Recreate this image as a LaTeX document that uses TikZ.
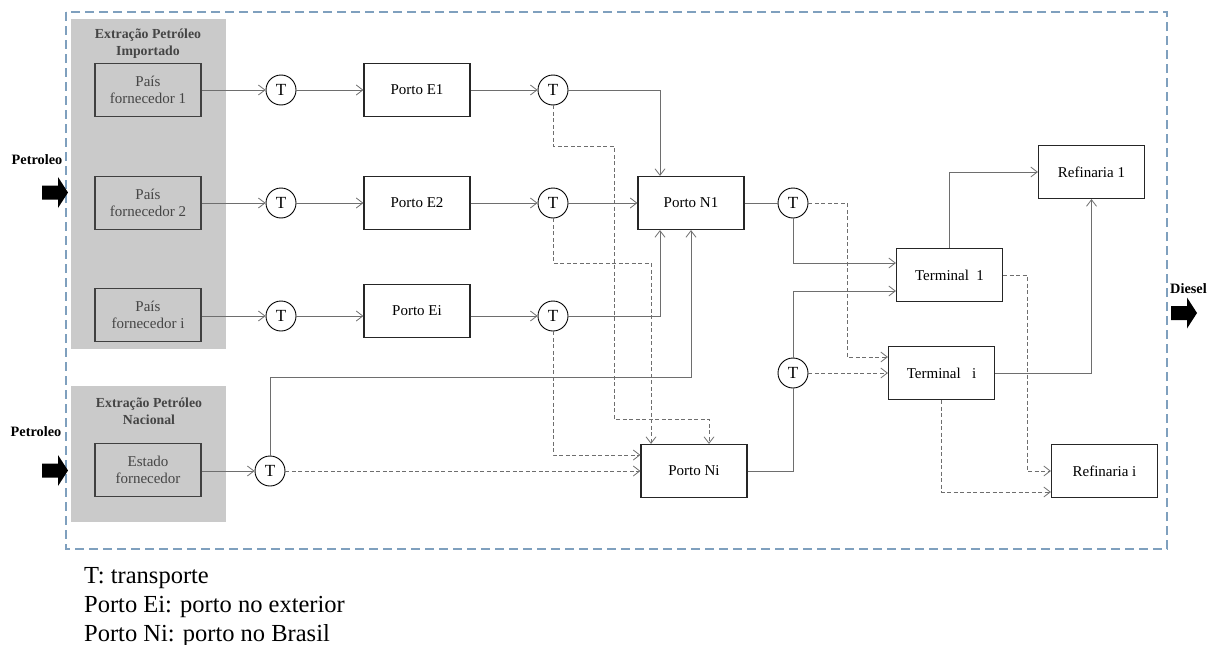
\documentclass[tikz,border=0pt]{standalone}
\usepackage{fontspec}
\setmainfont{Liberation Serif}
\usepackage{tikz}
\usetikzlibrary{arrows.meta}
\definecolor{cinzapainel}{HTML}{CACACA}
\definecolor{cinzalinha}{HTML}{6E6E6E}
\definecolor{azulmoldura}{HTML}{7FA0BE}
\definecolor{cinzatexto}{HTML}{454545}
\tikzset{
  caixa/.style = {rectangle, draw=black!85, line width=1.2pt, fill=white,
    minimum width=106pt, minimum height=53pt, inner sep=0pt, align=center,
    font=\fontsize{15}{17}\selectfont},
  caixa_p/.style = {caixa, fill=cinzapainel, draw=black!75, text=cinzatexto},% caixa no painel cinza
  transp/.style = {circle, draw=black, line width=0.9pt, fill=white,
    minimum size=30pt, inner sep=0pt, font=\fontsize{17}{17}\selectfont},
  titulo/.style = {align=center, text=cinzatexto,
    font=\fontsize{13.8}{17}\selectfont\bfseries},
  rotulo/.style = {font=\fontsize{14.3}{16}\selectfont\bfseries},
  legenda/.style = {anchor=base west, inner sep=0pt, font=\fontsize{24.5}{29}\selectfont},
  lig/.style = {draw=cinzalinha, line width=0.8pt},
  lig_t/.style = {lig, dash pattern=on 4pt off 2.5pt},% ligacao tracejada
  setagrossa/.pic = {\fill (-13,-7) -- (3,-7) -- (3,-15.5) -- (13,0) -- (3,15.5) -- (3,7) -- (-13,7) -- cycle;}
}
\begin{document}
\begin{tikzpicture}[x=1pt, y=-1pt, >={Straight Barb[length=6.5pt,width=10pt]}]
  \useasboundingbox (0,0) rectangle (1208,645);
  % moldura e paineis
  \draw[azulmoldura, line width=1.2pt, dash pattern=on 9pt off 5pt] (66,12) rectangle (1167,549);
  \fill[cinzapainel] (71,19) rectangle (226,349);
  \fill[cinzapainel] (71,386) rectangle (226,522);
  \node[titulo] (tit_imp) at (148,43.5) {Extração Petróleo\\Importado};
  \node[titulo] (tit_nac) at (149,411) {Extração Petróleo\\Nacional};

  % entradas e saida
  \node[rotulo] (petr1) at (37,160) {Petroleo};
  \pic at (55,192.5) {setagrossa};
  \node[rotulo] (petr2) at (36,432) {Petroleo};
  \pic at (55,470.5) {setagrossa};
  \node[rotulo, anchor=west, inner sep=0pt] (diesel) at (1170,289) {Diesel};
  \pic at (1184,313) {setagrossa};

  % fornecedores
  \node[caixa_p] (pais1) at (148,90) {País\\fornecedor 1};
  \node[caixa_p] (pais2) at (148,203) {País\\fornecedor 2};
  \node[caixa_p] (paisi) at (148,315) {País\\fornecedor i};
  \node[caixa_p] (estado) at (148,470) {Estado\\fornecedor};

  \node[transp] (t1) at (281,90) {T};
  \node[transp] (t2) at (281,203) {T};
  \node[transp] (ti) at (281,316) {T};
  \node[transp] (tn) at (270,471) {T};

  % portos
  \node[caixa] (e1) at (417,90) {Porto E1};
  \node[caixa] (e2) at (417,203) {Porto E2};
  \node[caixa] (ei) at (417,311) {Porto Ei};
  \node[transp] (te1) at (553,90) {T};
  \node[transp] (te2) at (553,203) {T};
  \node[transp] (tei) at (553,316) {T};
  \node[caixa] (n1) at (691,203) {Porto N1};
  \node[caixa] (ni) at (694,471) {Porto Ni};
  \node[transp] (tn1) at (793,203) {T};
  \node[transp] (tni) at (793,373) {T};

  % terminais e refinarias
  \node[caixa] (term1) at (949.5,275) {Terminal\ \ 1};
  \node[caixa] (termi) at (941.5,373) {Terminal\ \ \ i};
  \node[caixa] (ref1) at (1091.5,172) {Refinaria 1};
  \node[caixa] (refi) at (1104.5,471) {Refinaria i};

  % ligacoes
  \draw[lig,->] (pais1.east) -- (t1);
  \draw[lig,->] (t1) -- (e1);
  \draw[lig,->] (e1) -- (te1);
  \draw[lig,->] (te1) -| ([xshift=-31pt]n1.north);
  \draw[lig,->] (pais2.east) -- (t2);
  \draw[lig,->] (t2) -- (e2);
  \draw[lig,->] (e2) -- (te2);
  \draw[lig,->] (te2) -- (n1);
  \draw[lig,->] (paisi.east |- ti) -- (ti);
  \draw[lig,->] (ti) -- (ti -| ei.west);
  \draw[lig,->] (ei.east |- tei) -- (tei);
  \draw[lig,->] (tei) -| ([xshift=-31pt]n1.south);
  \draw[lig,->] (estado.east |- tn) -- (tn);
  \draw[lig,->] (tn.north) -- ++(0,-78) -| (n1.south);

  \draw[lig_t,->] (te1.south) |- (614,146) |- (709,419) -- ([xshift=15pt]ni.north);
  \draw[lig_t,->] (te2.south) |- (651,263) -- ([xshift=-43pt]ni.north);
  \draw[lig_t,->] (tei.south) |- ([yshift=16pt]ni.west);
  \draw[lig_t,->] (tn) -- (ni);

  \draw[lig] (n1) -- (tn1);
  \draw[lig,->] (tn1.south) |- ([yshift=12pt]term1.west);
  \draw[lig_t,->] (tn1.east) -| (847,357) -- ([yshift=16pt]termi.west);
  \draw[lig] (ni.east) -| (tni.south);
  \draw[lig,->] (tni.north) |- ([yshift=-16pt]term1.west);
  \draw[lig_t,->] (tni) -- (termi);

  \draw[lig,->] (term1.north) |- (ref1.west);
  \draw[lig_t,->] (term1.east) -| (1027,471) -- (refi.west);
  \draw[lig,->] (termi.east) -| (ref1.south);
  \draw[lig_t,->] (termi.south) |- ([yshift=-21pt]refi.west);

  % legenda
  \node[legenda] (leg1) at (84,583) {T: transporte};
  \node[legenda] (leg2) at (84,612) {Porto Ei: porto no exterior};
  \node[legenda] (leg3) at (84,641) {Porto Ni: porto no Brasil};
\end{tikzpicture}
\end{document}
